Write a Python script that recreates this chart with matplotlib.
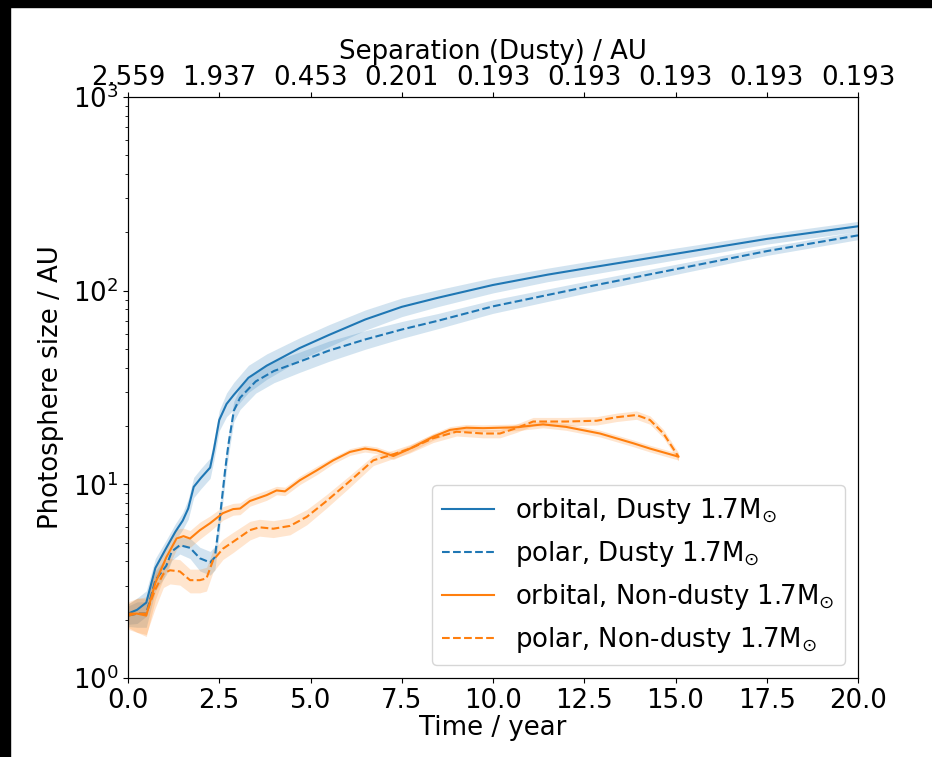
import numpy as np
import matplotlib.pyplot as plt
from matplotlib.patches import Rectangle

# orbital, Dusty
t_od = [0.0, 0.25, 0.5, 0.75, 1.05, 1.3, 1.5, 1.65, 1.8, 2.0, 2.25, 2.35, 2.5, 2.7, 2.9,
        3.3, 3.8, 4.3, 4.7, 5.5, 6.5, 7.5, 8.5, 10.0, 11.5, 12.5, 15.0, 17.5, 20.0]
y_od = [2.15, 2.25, 2.45, 3.7, 4.7, 5.7, 6.5, 7.5, 9.7, 10.8, 12.2, 15.0, 21.5, 26.0, 29.0,
        35.5, 41.0, 46.0, 50.5, 59.0, 71.0, 82.5, 92.0, 107.0, 121.0, 130.0, 155.0, 185.0, 215.0]
e_od = [0.12, 0.15, 0.15, 0.12, 0.1, 0.1, 0.1, 0.12, 0.12, 0.12, 0.12, 0.12, 0.12, 0.14, 0.16,
        0.16, 0.15, 0.14, 0.13, 0.13, 0.12, 0.11, 0.1, 0.09, 0.08, 0.08, 0.07, 0.06, 0.06]

# polar, Dusty
t_pd = [0.0, 0.25, 0.5, 0.75, 1.05, 1.2, 1.42, 1.7, 1.97, 2.25, 2.38, 2.52, 2.66, 2.75, 2.9,
        3.07, 3.5, 4.0, 4.7, 5.5, 6.5, 7.5, 8.5, 10.0, 12.5, 15.0, 17.5, 20.0]
y_pd = [2.1, 2.15, 2.15, 3.2, 3.8, 4.5, 4.85, 4.7, 4.15, 3.95, 4.2, 6.8, 11.8, 16.0, 24.0,
        28.0, 34.0, 38.5, 43.0, 49.0, 56.0, 63.0, 70.0, 83.0, 104.0, 129.0, 160.0, 193.0]
e_pd = [0.12, 0.15, 0.15, 0.12, 0.1, 0.1, 0.1, 0.12, 0.14, 0.14, 0.14, 0.12, 0.12, 0.12, 0.12,
        0.13, 0.13, 0.13, 0.12, 0.12, 0.11, 0.1, 0.09, 0.08, 0.07, 0.06, 0.05, 0.05]

# orbital, Non-dusty
t_on = [0.0, 0.25, 0.5, 0.75, 1.05, 1.33, 1.52, 1.7, 1.97, 2.25, 2.6, 2.88, 3.07, 3.34, 3.8,
        4.07, 4.3, 4.71, 5.17, 5.62, 6.08, 6.49, 6.81, 7.27, 7.73, 8.36, 8.82, 9.27, 9.73,
        10.64, 11.37, 12.0, 12.93, 13.84, 14.3, 15.08]
y_on = [2.15, 2.15, 2.1, 3.1, 4.2, 5.25, 5.4, 5.25, 5.8, 6.3, 7.1, 7.45, 7.5, 8.2, 8.8,
        9.3, 9.2, 10.5, 11.8, 13.3, 14.7, 15.3, 15.0, 14.0, 15.3, 17.6, 19.1, 19.6, 19.5,
        19.7, 20.4, 19.8, 18.3, 16.3, 15.3, 13.9]
e_on = [0.15, 0.2, 0.22, 0.18, 0.15, 0.12, 0.1, 0.1, 0.1, 0.09, 0.08, 0.07, 0.07, 0.06, 0.06,
        0.05, 0.05, 0.05, 0.05, 0.04, 0.04, 0.04, 0.04, 0.04, 0.04, 0.04, 0.04, 0.04, 0.04,
        0.04, 0.04, 0.04, 0.04, 0.04, 0.04, 0.04]

# polar, Non-dusty
t_pn = [0.0, 0.25, 0.5, 0.74, 0.97, 1.15, 1.42, 1.7, 1.97, 2.15, 2.33, 2.6, 2.88, 3.34, 3.6,
        3.98, 4.44, 4.9, 5.44, 6.08, 6.72, 7.27, 7.73, 8.36, 9.0, 9.73, 10.19, 10.64, 11.1,
        12.0, 12.84, 13.38, 13.93, 14.3, 14.67, 15.08]
y_pn = [2.1, 2.15, 2.15, 2.85, 3.45, 3.6, 3.55, 3.2, 3.2, 3.27, 4.05, 4.65, 5.05, 5.8, 6.0,
        5.9, 6.1, 6.8, 8.2, 10.4, 13.3, 14.3, 15.3, 17.3, 18.7, 18.3, 18.3, 19.5, 21.1,
        21.1, 21.3, 22.2, 22.8, 21.5, 18.3, 13.9]
e_pn = [0.15, 0.2, 0.22, 0.2, 0.15, 0.15, 0.15, 0.14, 0.14, 0.14, 0.13, 0.12, 0.12, 0.11, 0.1,
        0.1, 0.1, 0.09, 0.08, 0.07, 0.06, 0.05, 0.05, 0.05, 0.05, 0.05, 0.05, 0.05, 0.05,
        0.05, 0.05, 0.05, 0.05, 0.05, 0.05, 0.05]

top_ticks = [0.0, 2.5, 5.0, 7.5, 10.0, 12.5, 15.0, 17.5, 20.0]
top_labels = ['2.559', '1.937', '0.453', '0.201', '0.193', '0.193', '0.193', '0.193', '0.193']

fs = 18.7
fig = plt.figure(figsize=(9.32, 7.57), dpi=100)
ax = fig.add_axes([128 / 932, 1 - 678 / 757, 730 / 932, 581 / 757])

series = [
    (t_od, y_od, e_od, 'C0', '-', r'orbital, Dusty 1.7M$_{\odot}$'),
    (t_pd, y_pd, e_pd, 'C0', '--', r'polar, Dusty 1.7M$_{\odot}$'),
    (t_on, y_on, e_on, 'C1', '-', r'orbital, Non-dusty 1.7M$_{\odot}$'),
    (t_pn, y_pn, e_pn, 'C1', '--', r'polar, Non-dusty 1.7M$_{\odot}$'),
]
for t, y, e, c, ls, lab in series:
    y = np.array(y)
    e = np.array(e)
    ax.fill_between(t, y * (1 - e), y * (1 + e), color=c, alpha=0.2, lw=0)
    ax.plot(t, y, color=c, ls=ls, lw=1.5, label=lab)

ax.set_yscale('log')
ax.set_ylim(1, 1000)
ax.set_xlim(0, 20)
ax.set_xticks(top_ticks)
ax.tick_params(labelsize=fs)
ax.set_xlabel('Time / year', fontsize=fs, labelpad=1)
ax.set_ylabel('Photosphere size / AU', fontsize=fs, labelpad=6)
ax.legend(loc='lower right', fontsize=fs)

ax2 = ax.twiny()
ax2.set_xlim(ax.get_xlim())
ax2.set_xticks(top_ticks)
ax2.set_xticklabels(top_labels)
ax2.tick_params(labelsize=fs, pad=1)
ax2.set_xlabel('Separation (Dusty) / AU', fontsize=fs, labelpad=4)

fig.add_artist(Rectangle((0, 1 - 7 / 757), 1, 7 / 757, transform=fig.transFigure, color='black'))
fig.add_artist(Rectangle((0, 0), 10 / 932, 1, transform=fig.transFigure, color='black'))

fig.savefig('out.png', dpi=100)
